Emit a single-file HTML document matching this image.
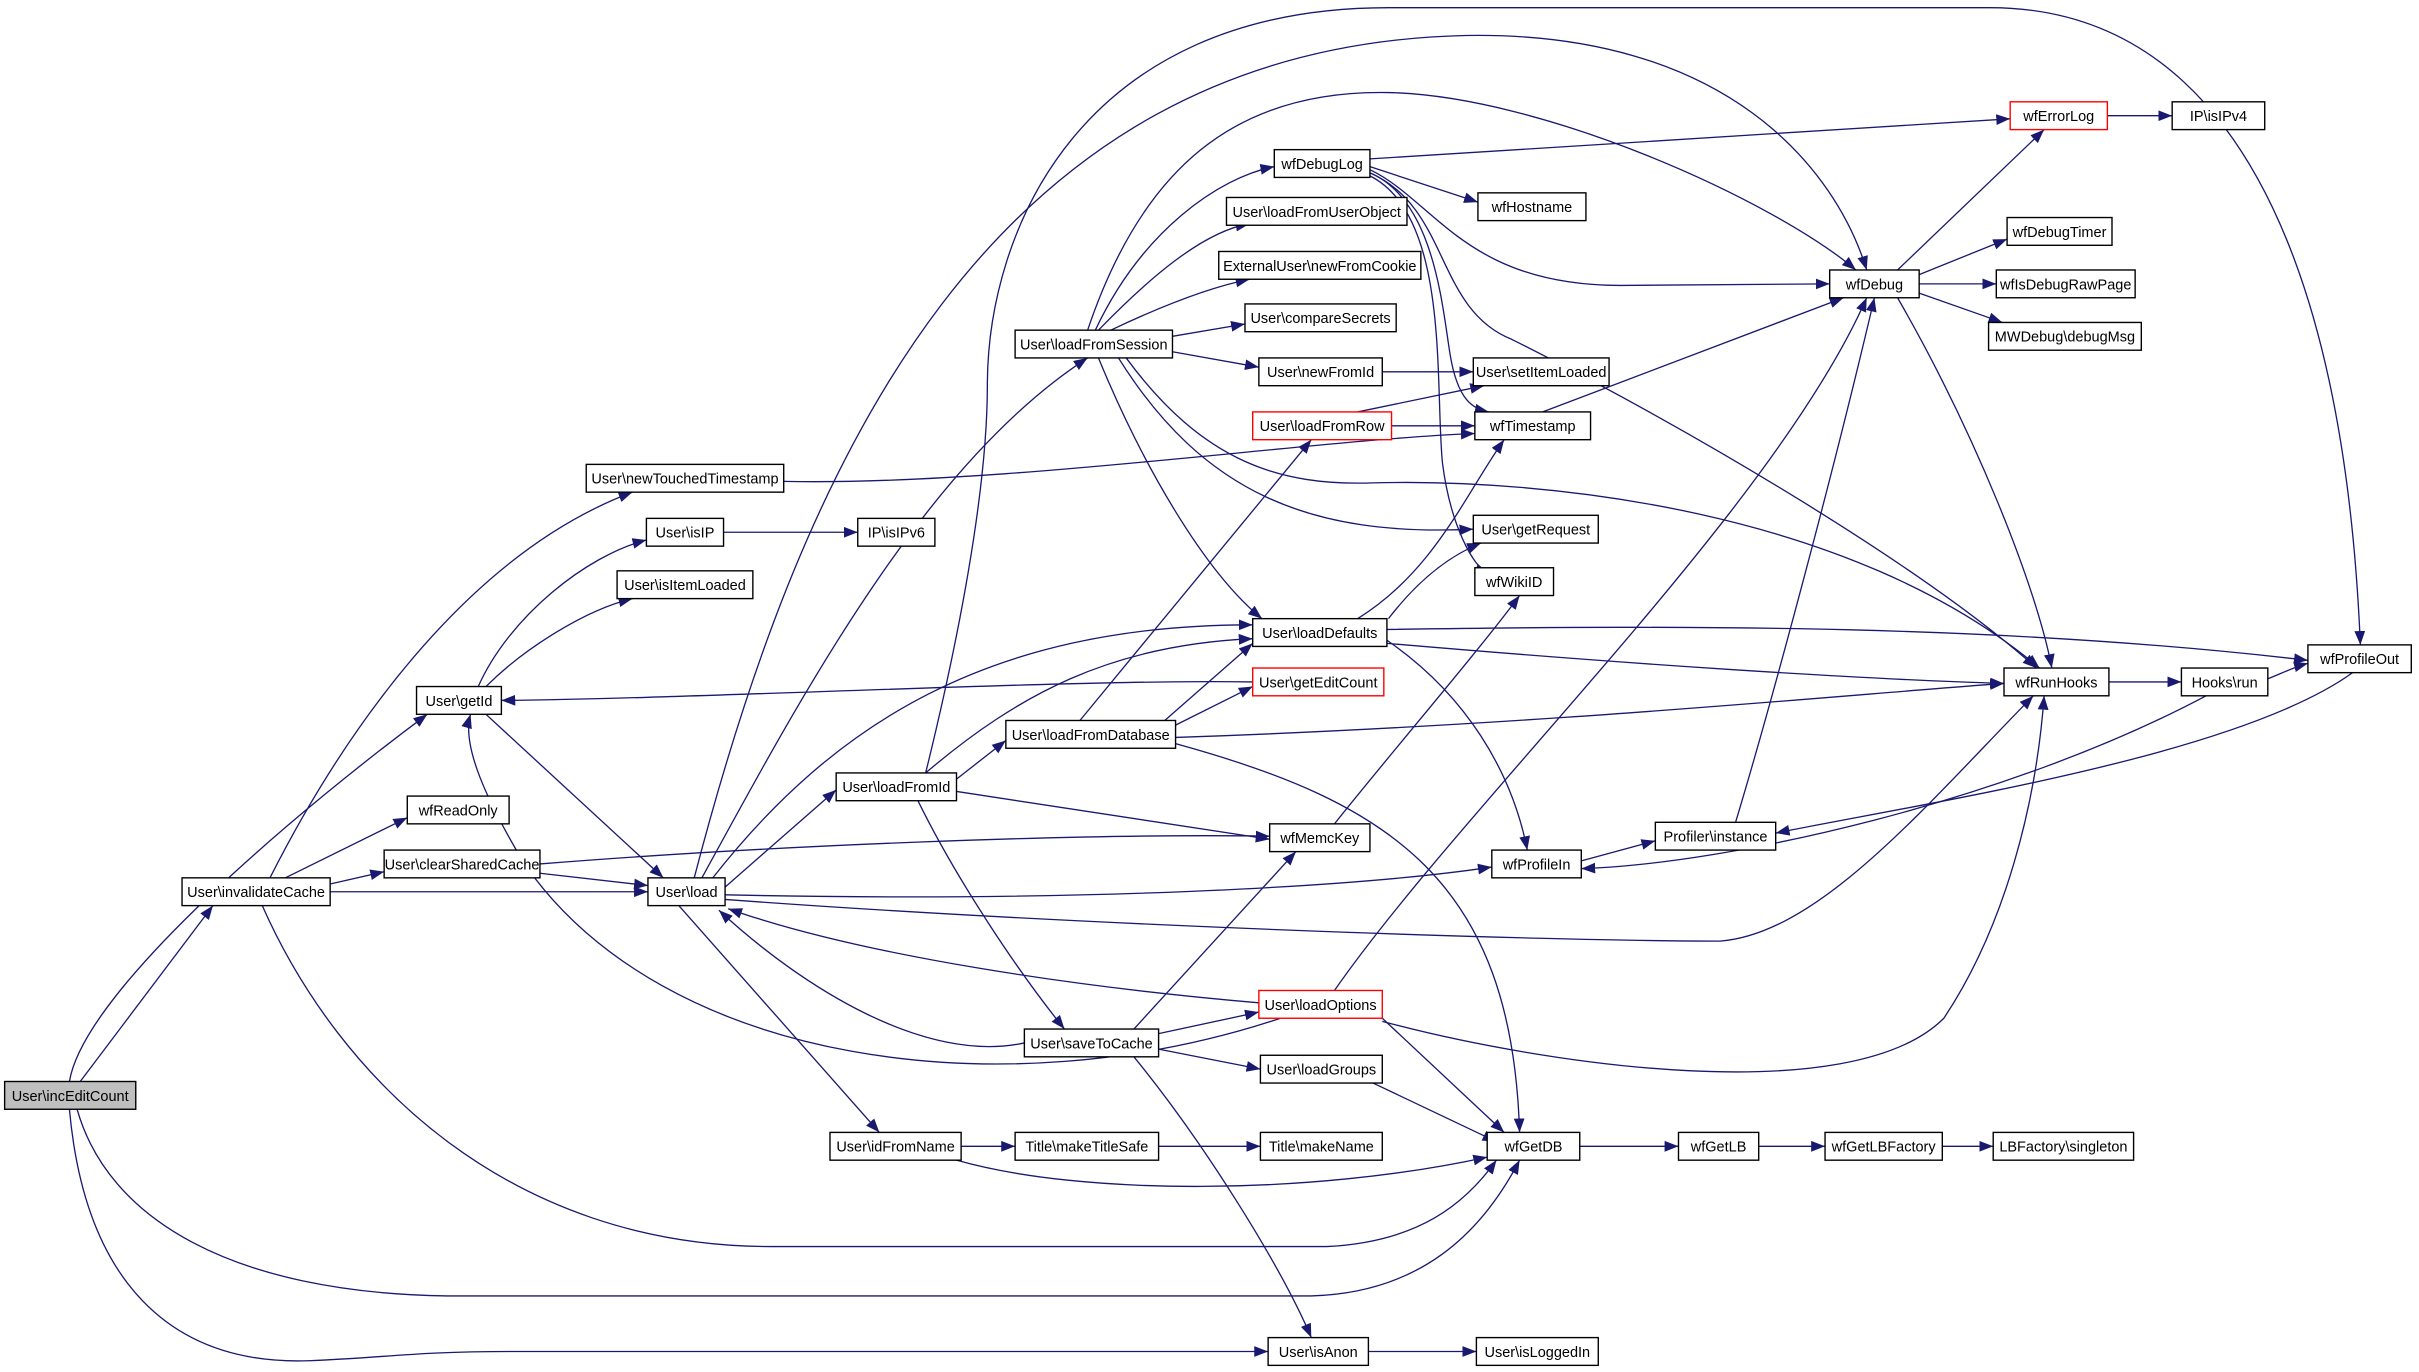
<!DOCTYPE html>
<html><head><meta charset="utf-8"><style>
html,body{margin:0;padding:0;background:#fff;width:2419px;height:1372px;overflow:hidden}
svg{display:block}
text{font-family:"Liberation Sans",sans-serif;font-size:9.4px;text-anchor:middle;fill:#000}
.e{fill:none;stroke:#191970;stroke-width:0.85;marker-end:url(#a)}
rect{fill:#fff;stroke:#000;stroke-width:0.9}
rect.r{stroke:#ff0000}
rect.g{fill:#bfbfbf}
</style></head><body>
<svg width="2419" height="1372" viewBox="0 0 1568 889.3" preserveAspectRatio="none">
<defs><marker id="a" markerUnits="userSpaceOnUse" markerWidth="10" markerHeight="8" refX="9" refY="3.5" orient="auto"><path d="M0,0 L9,3.5 L0,7 z" fill="#191970"/></marker></defs>
<g>
<path class="e" d="M45,701 C55,640 200,520 277,463"/>
<path class="e" d="M52,701 L138,587"/>
<path class="e" d="M50,719 C70,790 150,838 290,840 L850,840 C920,838 960,800 985,752"/>
<path class="e" d="M45,719 C55,830 110,885 200,882 C250,880 270,876 330,876 L822,876"/>
<path class="e" d="M175,569 C220,480 300,360 410,319"/>
<path class="e" d="M185,569 L264,530"/>
<path class="e" d="M214,573 L249,565"/>
<path class="e" d="M214,578 L420,578"/>
<path class="e" d="M170,587 C220,700 330,808 500,808 L860,808 C920,805 950,780 970,752"/>
<path class="e" d="M310,445 C330,400 380,360 419,350"/>
<path class="e" d="M315,445 C340,420 380,395 410,388"/>
<path class="e" d="M315,463 L430,569"/>
<path class="e" d="M508,312 C650,315 850,285 956,281"/>
<path class="e" d="M469,345 L556,345"/>
<path class="e" d="M350,560 C500,548 700,540 823,542"/>
<path class="e" d="M350,566 L420,574"/>
<path class="e" d="M455,569 C520,450 600,300 705,232"/>
<path class="e" d="M462,569 C540,470 640,405 812,405"/>
<path class="e" d="M600,501 C660,450 720,418 812,414"/>
<path class="e" d="M470,575 L542,512"/>
<path class="e" d="M470,580 C700,585 880,575 967,562"/>
<path class="e" d="M470,583 C700,600 1000,610 1115,610 C1180,605 1250,520 1318,451"/>
<path class="e" d="M450,569 C520,300 640,30 950,23 C1120,20 1190,110 1210,175"/>
<path class="e" d="M440,587 L570,734"/>
<path class="e" d="M600,501 C620,420 640,320 640,250 C640,150 700,5 900,5 L1290,5 C1500,5 1525,300 1530,418"/>
<path class="e" d="M620,505 L652,480"/>
<path class="e" d="M620,513 L823,544"/>
<path class="e" d="M595,519 C620,570 660,630 690,667"/>
<path class="e" d="M700,467 L850,285"/>
<path class="e" d="M755,467 L812,417"/>
<path class="e" d="M762,470 L812,445"/>
<path class="e" d="M762,478 C1000,470 1200,450 1299,443"/>
<path class="e" d="M762,482 C900,520 980,570 985,734"/>
<path class="e" d="M710,214 C740,150 790,115 826,108"/>
<path class="e" d="M712,214 C745,180 780,150 810,145"/>
<path class="e" d="M720,214 C760,195 790,185 810,181"/>
<path class="e" d="M760,218 L807,210"/>
<path class="e" d="M760,228 L816,238"/>
<path class="e" d="M725,232 C780,320 850,348 955,343"/>
<path class="e" d="M712,232 C740,300 780,370 818,401"/>
<path class="e" d="M730,232 C780,300 830,315 890,313 C1000,310 1200,330 1322,433"/>
<path class="e" d="M705,214 C740,110 800,58 900,60 C1000,62 1150,130 1203,175"/>
<path class="e" d="M888,103 L1303,77"/>
<path class="e" d="M888,108 L958,131"/>
<path class="e" d="M888,110 C930,130 950,185 1050,185 L1186,184"/>
<path class="e" d="M888,112 C930,130 935,200 940,230 C945,260 955,265 965,267"/>
<path class="e" d="M888,114 C940,140 930,250 935,300 C940,340 955,368 965,372"/>
<path class="e" d="M888,112 C940,135 930,200 980,220 C1100,280 1250,370 1320,433"/>
<path class="e" d="M896,241 L955,241"/>
<path class="e" d="M880,267 L962,250"/>
<path class="e" d="M902,276 L956,276"/>
<path class="e" d="M1000,267 L1195,193"/>
<path class="e" d="M900,401 C920,375 940,360 960,352"/>
<path class="e" d="M880,401 C930,370 950,320 975,285"/>
<path class="e" d="M899,415 C950,450 980,500 990,551"/>
<path class="e" d="M899,417 C1050,430 1200,440 1299,443"/>
<path class="e" d="M899,408 C1100,405 1300,405 1496,428"/>
<path class="e" d="M812,442 C700,440 450,453 325,454"/>
<path class="e" d="M865,534 C900,490 960,420 985,386"/>
<path class="e" d="M1025,558 L1073,545"/>
<path class="e" d="M1125,533 C1150,450 1190,300 1215,193"/>
<path class="e" d="M1430,451 C1300,520 1120,560 1025,563"/>
<path class="e" d="M1525,436 C1450,490 1250,520 1151,540"/>
<path class="e" d="M1367,442 L1414,442"/>
<path class="e" d="M1470,440 C1480,436 1488,432 1496,430"/>
<path class="e" d="M1230,175 L1325,84"/>
<path class="e" d="M1244,178 L1301,155"/>
<path class="e" d="M1244,184 L1294,184"/>
<path class="e" d="M1244,190 L1298,209"/>
<path class="e" d="M1230,193 C1280,280 1320,380 1330,433"/>
<path class="e" d="M1366,75 L1408,75"/>
<path class="e" d="M816,650 C700,640 560,620 472,589"/>
<path class="e" d="M830,660 C650,720 430,690 340,560 C310,510 300,480 305,463"/>
<path class="e" d="M865,642 C950,520 1150,330 1210,193"/>
<path class="e" d="M896,660 L975,734"/>
<path class="e" d="M896,662 C1000,690 1200,720 1260,660 C1300,600 1320,520 1325,451"/>
<path class="e" d="M664,676 C600,690 520,640 466,590"/>
<path class="e" d="M735,667 L840,552"/>
<path class="e" d="M751,670 L816,656"/>
<path class="e" d="M751,680 L817,693"/>
<path class="e" d="M735,685 C780,740 830,820 850,867"/>
<path class="e" d="M890,702 L970,740"/>
<path class="e" d="M623,743 L658,743"/>
<path class="e" d="M620,752 C700,775 850,775 964,750"/>
<path class="e" d="M751,743 L817,743"/>
<path class="e" d="M1024,743 L1088,743"/>
<path class="e" d="M1140,743 L1183,743"/>
<path class="e" d="M1259,743 L1292,743"/>
<path class="e" d="M887,876 L957,876"/>
</g>
<g>
<rect class="g" x="3" y="701" width="85" height="18"/><text x="45.5" y="713.5">User\incEditCount</text>
<rect x="118" y="569" width="96" height="18"/><text x="166" y="581.5">User\invalidateCache</text>
<rect x="270" y="445" width="55" height="18"/><text x="297.5" y="457.5">User\getId</text>
<rect x="264" y="516" width="66" height="18"/><text x="297" y="528.5">wfReadOnly</text>
<rect x="249" y="551" width="101" height="18"/><text x="299.5" y="563.5">User\clearSharedCache</text>
<rect x="380" y="301" width="128" height="18"/><text x="444" y="313.5">User\newTouchedTimestamp</text>
<rect x="419" y="336" width="50" height="18"/><text x="444" y="348.5">User\isIP</text>
<rect x="400" y="370" width="88" height="18"/><text x="444" y="382.5">User\isItemLoaded</text>
<rect x="556" y="336" width="50" height="18"/><text x="581" y="348.5">IP\isIPv6</text>
<rect x="420" y="569" width="50" height="18"/><text x="445" y="581.5">User\load</text>
<rect x="658" y="214" width="102" height="18"/><text x="709" y="226.5">User\loadFromSession</text>
<rect x="826" y="97" width="62" height="18"/><text x="857" y="109.5">wfDebugLog</text>
<rect x="795" y="128" width="117" height="18"/><text x="853.5" y="140.5">User\loadFromUserObject</text>
<rect x="790" y="163" width="131" height="18"/><text x="855.5" y="175.5">ExternalUser\newFromCookie</text>
<rect x="807" y="197" width="98" height="18"/><text x="856" y="209.5">User\compareSecrets</text>
<rect x="816" y="232" width="80" height="18"/><text x="856" y="244.5">User\newFromId</text>
<rect class="r" x="812" y="267" width="90" height="18"/><text x="857" y="279.5">User\loadFromRow</text>
<rect x="958" y="125" width="70" height="18"/><text x="993" y="137.5">wfHostname</text>
<rect x="955" y="232" width="88" height="18"/><text x="999" y="244.5">User\setItemLoaded</text>
<rect x="956" y="267" width="75" height="18"/><text x="993.5" y="279.5">wfTimestamp</text>
<rect x="955" y="334" width="81" height="18"/><text x="995.5" y="346.5">User\getRequest</text>
<rect x="956" y="368" width="51" height="18"/><text x="981.5" y="380.5">wfWikiID</text>
<rect x="812" y="401" width="87" height="18"/><text x="855.5" y="413.5">User\loadDefaults</text>
<rect class="r" x="812" y="433" width="85" height="18"/><text x="854.5" y="445.5">User\getEditCount</text>
<rect x="652" y="467" width="110" height="18"/><text x="707" y="479.5">User\loadFromDatabase</text>
<rect x="542" y="501" width="78" height="18"/><text x="581" y="513.5">User\loadFromId</text>
<rect x="823" y="534" width="65" height="18"/><text x="855.5" y="546.5">wfMemcKey</text>
<rect x="967" y="551" width="58" height="18"/><text x="996" y="563.5">wfProfileIn</text>
<rect x="1073" y="533" width="78" height="18"/><text x="1112" y="545.5">Profiler\instance</text>
<rect class="r" x="816" y="642" width="80" height="18"/><text x="856" y="654.5">User\loadOptions</text>
<rect x="664" y="667" width="87" height="18"/><text x="707.5" y="679.5">User\saveToCache</text>
<rect x="817" y="684" width="79" height="18"/><text x="856.5" y="696.5">User\loadGroups</text>
<rect x="538" y="734" width="85" height="18"/><text x="580.5" y="746.5">User\idFromName</text>
<rect x="658" y="734" width="93" height="18"/><text x="704.5" y="746.5">Title\makeTitleSafe</text>
<rect x="817" y="734" width="79" height="18"/><text x="856.5" y="746.5">Title\makeName</text>
<rect x="964" y="734" width="60" height="18"/><text x="994" y="746.5">wfGetDB</text>
<rect x="1088" y="734" width="52" height="18"/><text x="1114" y="746.5">wfGetLB</text>
<rect x="1183" y="734" width="76" height="18"/><text x="1221" y="746.5">wfGetLBFactory</text>
<rect x="1292" y="734" width="91" height="18"/><text x="1337.5" y="746.5">LBFactory\singleton</text>
<rect x="822" y="867" width="65" height="18"/><text x="854.5" y="879.5">User\isAnon</text>
<rect x="957" y="867" width="79" height="18"/><text x="996.5" y="879.5">User\isLoggedIn</text>
<rect class="r" x="1303" y="66" width="63" height="18"/><text x="1334.5" y="78.5">wfErrorLog</text>
<rect x="1408" y="66" width="60" height="18"/><text x="1438" y="78.5">IP\isIPv4</text>
<rect x="1301" y="141" width="68" height="18"/><text x="1335" y="153.5">wfDebugTimer</text>
<rect x="1186" y="175" width="58" height="18"/><text x="1215" y="187.5">wfDebug</text>
<rect x="1294" y="175" width="90" height="18"/><text x="1339" y="187.5">wfIsDebugRawPage</text>
<rect x="1289" y="209" width="99" height="18"/><text x="1338.5" y="221.5">MWDebug\debugMsg</text>
<rect x="1299" y="433" width="68" height="18"/><text x="1333" y="445.5">wfRunHooks</text>
<rect x="1414" y="433" width="56" height="18"/><text x="1442" y="445.5">Hooks\run</text>
<rect x="1496" y="418" width="67" height="18"/><text x="1529.5" y="430.5">wfProfileOut</text>
</g>
</svg>
</body></html>
